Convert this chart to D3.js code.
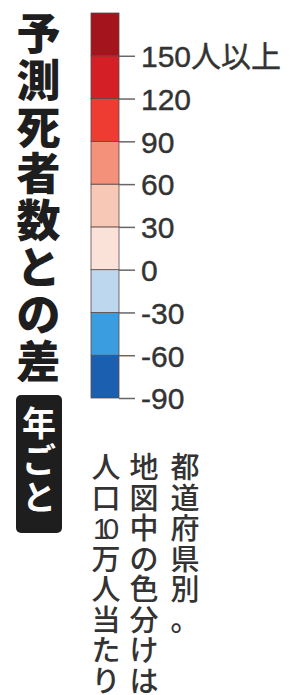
<!DOCTYPE html>
<html>
<head>
<meta charset="utf-8">
<script src="https://cdn.jsdelivr.net/npm/d3@7"></script>
<style>
  body { margin: 0; background: #fff; }
  svg { display: block; }
</style>
</head>
<body>
<script>
// Datos de la leyenda (límites de cada tramo de color)
const limites = [-90, -60, -30, 0, 30, 60, 90, 120, 150, 180];
const colores = ["#1b5fb1", "#3a9de0", "#bdd7ee", "#fbe2d8", "#f8c8b7", "#f4917b", "#ee3c33", "#d41f27", "#a3141c"];
const ticks = [-90, -60, -30, 0, 30, 60, 90, 120, 150];
const etiquetas = ["-90", "-60", "-30", "0", "30", "60", "90", "120", "150人以上"];

// Textos verticales
const titulo = ["予", "測", "死", "者", "数", "と", "の", "差"];
const etiqueta = ["年", "ご", "と"];
const notas = [
    ["都", "道", "府", "県", "別", "。"],
    ["地", "図", "中", "の", "色", "分", "け", "は"],
    ["人", "口", "10", "万", "人", "当", "た", "り"]
];

const width = 290;
const height = 695;
const jp = "'Noto Sans CJK JP', sans-serif";

const svg = d3.select("body").append("svg")
    .attr("width", width)
    .attr("height", height);

//Escala vertical de la barra de colores
const y = d3.scaleLinear().domain([-90, 180]).range([398, 13]);
const barX = 91, barW = 28;

const tramos = d3.range(colores.length).map(function(i) {
    return {desde: limites[i], hasta: limites[i + 1], color: colores[i]};
});

svg.append("g").selectAll("rect")
    .data(tramos)
    .enter()
    .append("rect")
    .attr("x", barX)
    .attr("y", function(d) { return y(d.hasta); })
    .attr("width", barW)
    .attr("height", function(d) { return y(d.desde) - y(d.hasta); })
    .attr("fill", function(d) { return d.color; })
    .attr("stroke", "#5a4a4a")
    .attr("stroke-width", 0.8);

//Eje con las marcas y etiquetas
const eje = d3.axisRight(y)
    .tickValues(ticks)
    .tickSize(16)
    .tickPadding(6)
    .tickFormat(function(d, i) { return etiquetas[i]; });

const g = svg.append("g")
    .attr("transform", "translate(" + (barX + barW) + ",0)")
    .call(eje);
g.select(".domain").remove();
g.selectAll(".tick line").attr("stroke", "#666").attr("stroke-width", 1.5);
g.selectAll(".tick text")
    .attr("fill", "#333")
    .attr("font-family", "'Liberation Sans', " + jp)
    .attr("font-size", 30)
    .attr("stroke", "#333")
    .attr("stroke-width", 0.4)
    .attr("dy", "0.36em");

//Función para escribir texto vertical carácter por carácter
function vertical(chars, cx, top, paso, size, peso, color) {
    svg.append("g").selectAll("text")
        .data(chars)
        .enter()
        .append("text")
        .attr("x", cx)
        .attr("y", function(d, i) { return top + i * paso + size * 0.38; })
        .attr("text-anchor", "middle")
        .attr("font-family", function(d) { return /\d/.test(d) ? "'Liberation Sans', " + jp : jp; })
        .attr("font-size", size)
        .attr("font-weight", peso)
        .attr("fill", color)
        .attr("textLength", function(d) { return d.length > 1 ? size * 0.9 : null; })
        .text(function(d) { return d; });
}

//Título
vertical(titulo, 38.5, 33, 46.9, 44, 900, "#1e1e1e");

//Recuadro "年ごと"
svg.append("rect")
    .attr("x", 16).attr("y", 395)
    .attr("width", 46).attr("height", 138)
    .attr("rx", 5)
    .attr("fill", "#1e1e1e");
vertical(etiqueta, 39, 423, 37, 34, 700, "#fff");

//Notas
const columnasX = [185, 144, 106];
notas.forEach(function(col, i) {
    vertical(col, columnasX[i], 467, 30.5, 29, 500, "#333");
});
</script>
</body>
</html>
